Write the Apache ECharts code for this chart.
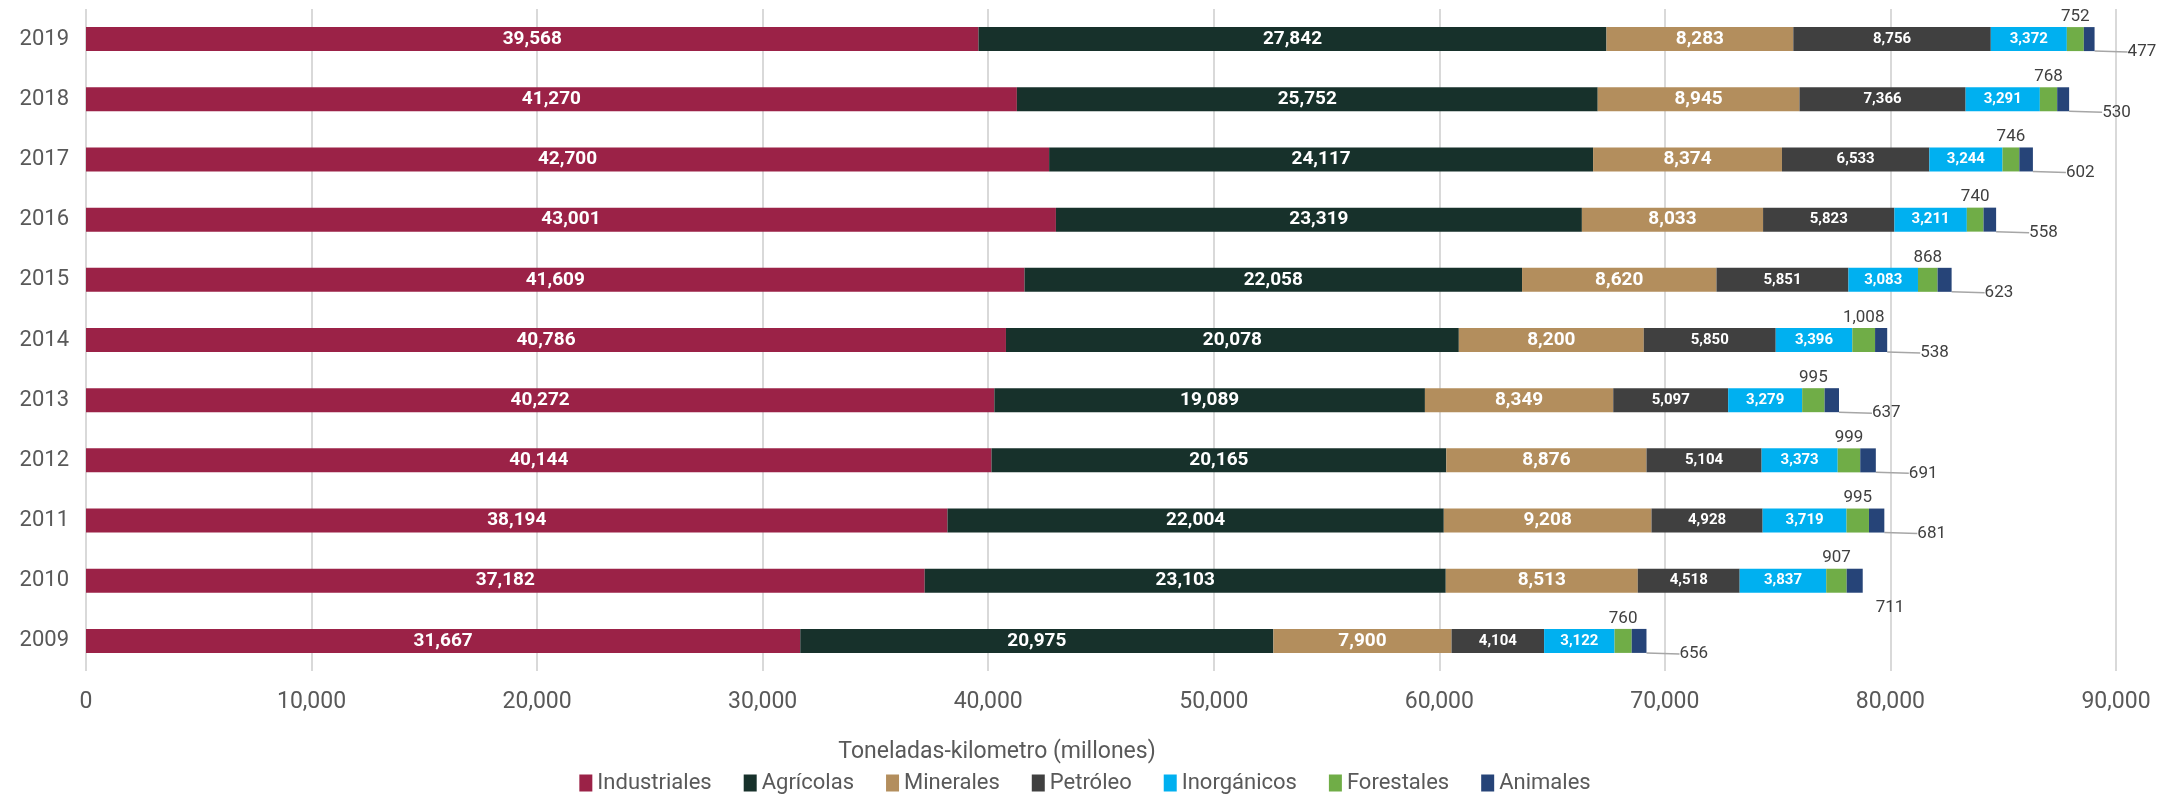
<!DOCTYPE html>
<html>
<head>
<meta charset="utf-8">
<script src="https://cdn.jsdelivr.net/npm/echarts@6/dist/echarts.min.js"></script>
<style>
  html, body { margin: 0; padding: 0; background: #fff; }
  #chart { width: 2170px; height: 794px; }
</style>
</head>
<body>
<div id="chart"></div>
<script>
// años (de abajo hacia arriba)
var years = ['2009', '2010', '2011', '2012', '2013', '2014', '2015', '2016', '2017', '2018', '2019'];
var xTicks = [0, 10000, 20000, 30000, 40000, 50000, 60000, 70000, 80000, 90000];

// toneladas-kilometro (millones) por tipo de producto
var industriales = [31667, 37182, 38194, 40144, 40272, 40786, 41609, 43001, 42700, 41270, 39568];
var agricolas    = [20975, 23103, 22004, 20165, 19089, 20078, 22058, 23319, 24117, 25752, 27842];
var minerales    = [7900, 8513, 9208, 8876, 8349, 8200, 8620, 8033, 8374, 8945, 8283];
var petroleo     = [4104, 4518, 4928, 5104, 5097, 5850, 5851, 5823, 6533, 7366, 8756];
var inorganicos  = [3122, 3837, 3719, 3373, 3279, 3396, 3083, 3211, 3244, 3291, 3372];
var forestales   = [760, 907, 995, 999, 995, 1008, 868, 740, 746, 768, 752];
var animales     = [656, 711, 681, 691, 637, 538, 623, 558, 602, 530, 477];

var FONT = "Roboto, 'Noto Sans', sans-serif";

function fmt(v) {
  return Number(v).toLocaleString('en-US');
}

var chart = echarts.init(document.getElementById('chart'));

// etiqueta blanca dentro de la barra
function inside(size) {
  return {
    show: true,
    position: 'inside',
    color: '#fff',
    fontWeight: 'bold',
    fontSize: size,
    fontFamily: FONT,
    formatter: function (p) { return fmt(p.value); }
  };
}

function bar(name, color, data, label) {
  return {
    name: name,
    type: 'bar',
    stack: 'total',
    barWidth: 24,
    color: color,
    itemStyle: { color: color },
    label: label,
    emphasis: { disabled: true },
    data: data
  };
}

var animalesSerie = bar('Animales', '#264478', animales.map(function (v, i) {
  // 2010 no lleva línea guía
  return i === 1 ? { value: v, labelLine: { show: false } } : v;
}), {
  show: true,
  position: 'right',
  distance: 5,
  color: '#404040',
  fontSize: 17,
  fontFamily: FONT,
  formatter: function (p) { return fmt(p.value); }
});
animalesSerie.labelLine = { show: true, lineStyle: { color: '#a6a6a6', width: 1.5 } };
animalesSerie.labelLayout = function (p) {
  if (p.dataIndex === 1) return { dx: 8, dy: 27 };
  return { dx: 28, dy: 13 };
};

chart.setOption({
  animation: false,
  textStyle: { fontFamily: FONT },
  grid: { left: 86, right: 54, top: 9, bottom: 123, containLabel: false },
  legend: {
    top: 767,
    left: 'center',
    itemWidth: 13,
    itemHeight: 17,
    itemGap: 32,
    icon: 'rect',
    textStyle: { color: '#595959', fontSize: 22, fontFamily: FONT },
    data: ['Industriales', 'Agrícolas', 'Minerales', 'Petróleo', 'Inorgánicos', 'Forestales', 'Animales']
  },
  xAxis: {
    type: 'value',
    min: xTicks[0],
    max: xTicks[xTicks.length - 1],
    interval: 10000,
    name: 'Toneladas-kilometro (millones)',
    nameLocation: 'middle',
    nameGap: 70,
    nameTextStyle: { color: '#595959', fontSize: 23, fontFamily: FONT, padding: [0, 208, 0, 0] },
    axisLine: { show: false },
    axisTick: { show: false },
    axisLabel: { color: '#595959', fontSize: 23, margin: 20, formatter: function (v) { return fmt(v); } },
    splitLine: { lineStyle: { color: '#d9d9d9', width: 2 } }
  },
  yAxis: {
    type: 'category',
    data: years,
    axisLine: { show: false },
    axisTick: { show: false },
    axisLabel: { color: '#595959', fontSize: 22, margin: 17 }
  },
  series: [
    bar('Industriales', '#9b2247', industriales, inside(19)),
    bar('Agrícolas', '#17312b', agricolas, inside(19)),
    bar('Minerales', '#b38e5d', minerales, inside(19)),
    bar('Petróleo', '#404040', petroleo, inside(15)),
    bar('Inorgánicos', '#00b0f0', inorganicos, inside(15)),
    bar('Forestales', '#70ad47', forestales, {
      show: true,
      position: 'top',
      distance: 2,
      color: '#404040',
      fontSize: 17,
      fontFamily: FONT,
      formatter: function (p) { return fmt(p.value); }
    }),
    animalesSerie
  ]
});
</script>
</body>
</html>
